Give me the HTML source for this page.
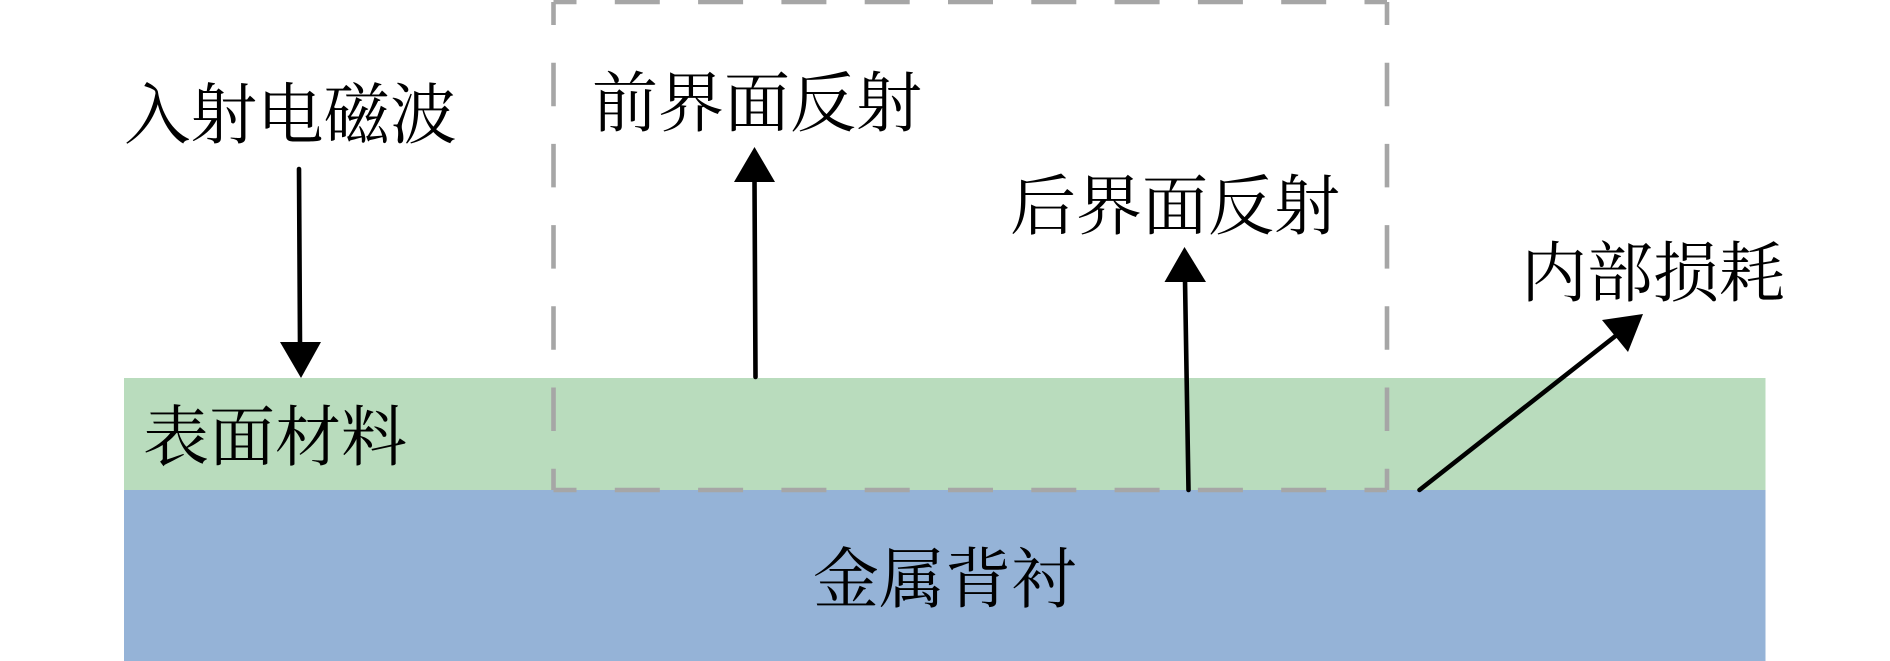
<!DOCTYPE html>
<html><head><meta charset="utf-8"><style>
html,body{margin:0;padding:0;background:#fff;width:1890px;height:661px;overflow:hidden}
svg{display:block}
text{font-family:"Liberation Serif","Noto Serif CJK SC",serif;font-size:66px;fill:#000}
</style></head><body>
<svg width="1890" height="661" viewBox="0 0 1890 661" xmlns="http://www.w3.org/2000/svg">
<rect x="124" y="378" width="1641.5" height="112" fill="#b9dcbd"/>
<rect x="124" y="490" width="1641.5" height="171" fill="#95b3d7"/>
<g fill="none" stroke="#a6a6a6" stroke-width="4.6">
<line x1="553.5" y1="2" x2="1387" y2="2" stroke-dasharray="45 38.3" stroke-dashoffset="22"/>
<line x1="553.5" y1="490" x2="1387" y2="490" stroke-dasharray="45 38.3" stroke-dashoffset="22"/>
<line x1="553.5" y1="2" x2="553.5" y2="490" stroke-dasharray="43.5 37.7" stroke-dashoffset="20.5"/>
<line x1="1387" y1="2" x2="1387" y2="490" stroke-dasharray="43.5 37.7" stroke-dashoffset="20.5"/>
</g>
<g stroke="#000" stroke-width="4.6" stroke-linecap="round" fill="none">
<line x1="299" y1="169" x2="300" y2="344"/>
<line x1="755.5" y1="377" x2="754.5" y2="180"/>
<line x1="1188.5" y1="490" x2="1185" y2="280"/>
<line x1="1419.5" y1="490" x2="1618" y2="334"/>
</g>
<polygon points="280,342 321,342 301,378" fill="#000"/>
<polygon points="734,182 775,182 754.5,147" fill="#000"/>
<polygon points="1164.5,282 1206,282 1184.5,247" fill="#000"/>
<polygon points="1643,314 1602,320 1628,352" fill="#000"/>
<text x="124" y="138" style="font-size:66.5px">入射电磁波</text>
<text x="592" y="126">前界面反射</text>
<text x="1010" y="229">后界面反射</text>
<text x="1521" y="296">内部损耗</text>
<text x="143" y="460">表面材料</text>
<text x="813" y="602">金属背衬</text>
</svg>
</body></html>
